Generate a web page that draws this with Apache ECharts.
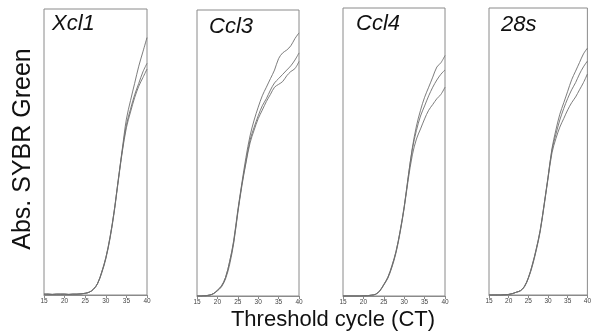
<!DOCTYPE html>
<html>
<head>
<meta charset="utf-8">
<script src="https://cdn.jsdelivr.net/npm/echarts@6/dist/echarts.min.js"></script>
<style>
html,body{margin:0;padding:0;background:#fff;}
#chart{width:594px;height:334px;}
</style>
</head>
<body>
<div id="chart"></div>
<script>
// Threshold cycles (x values)
const cycles = [15,16,17,18,19,20,21,22,23,24,25,26,27,28,29,30,31,32,33,34,35,36,37,38,39,40];
const xTicks = [15,20,25,30,35,40];

const panelTitles = ['Xcl1','Ccl3','Ccl4','28s'];
const yLabel = 'Abs. SYBR Green';
const xLabel = 'Threshold cycle (CT)';

// Xcl1 amplification curves (% of axis height)
const xcl1A = [0.3,0.3,0.2,0.3,0.3,0.3,0.2,0.3,0.3,0.4,0.6,1,2,4,8,13,20,29,40,51,61.5,68,74,80,85,90];
const xcl1B = [0.3,0.3,0.2,0.3,0.3,0.3,0.2,0.3,0.3,0.4,0.6,1,2,4,8,13,20,29,40,50.5,59.5,65,70,74,78,81];
const xcl1C = [0.3,0.3,0.2,0.3,0.3,0.3,0.2,0.3,0.3,0.4,0.6,1,2,4,7.6,12.6,19.5,28.5,39.5,50,58.5,64,69,73,76,79];

// Ccl3
const ccl3A = [0,0,0.1,0.3,0.8,2,3.5,6.5,12,19.5,30,39.5,48.5,56,61.5,66,70,73,76,79,83,85,86,87.5,90,92];
const ccl3B = [0,0,0.1,0.3,0.8,2,3.5,6.5,12,19,29.5,39,47,54.5,59,63,66.5,69,72,74.5,76,77.5,79,80.5,82.5,85];
const ccl3C = [0,0,0.1,0.3,0.8,1.8,3.2,6,11,18.5,29,38.5,46.5,53.5,58,62,65,68,70.5,73,74,75,77,78.5,79.5,82];

// Ccl4
const ccl4A = [0,0,0,0,0,0.05,0.1,0.3,0.6,1.8,4,6.5,10.5,15.5,22.5,31,41.5,51.5,59,64.5,69,72.5,76,79.5,81,83.5];
const ccl4B = [0,0,0,0,0,0.05,0.1,0.3,0.6,1.8,4,6.5,10.5,15.5,22.5,31,41.5,51,57.5,62.5,66,69.5,72.5,75,77,78.5];
const ccl4C = [0,0,0,0,0,0.05,0.1,0.3,0.6,1.7,3.8,6.2,10,15,22,30.5,40.5,49,54.5,58,61.5,64.5,66.5,68.5,70,72.5];

// 28s
const s28A = [0,0,0,0,0.1,0.2,0.5,1,1.5,3,6,10.5,16,22.5,31.5,41,51,57.5,63,67,71,75,78,81,84,86];
const s28B = [0,0,0,0,0.1,0.2,0.5,1,1.5,3,6,10.5,16,22.5,31.5,41,50.5,56,61,65,68.5,71.5,74,77,79.5,81.5];
const s28C = [0,0,0,0,0.1,0.2,0.5,1,1.5,2.8,5.8,10,15.5,22,31,40.5,49.5,54.5,58.5,61.5,64.5,67,69,71.5,74,77];

const panels = [
  [xcl1A, xcl1B, xcl1C],
  [ccl3A, ccl3B, ccl3C],
  [ccl4A, ccl4B, ccl4C],
  [s28A, s28B, s28C]
];

const grids = [
  {left:44, top:9, width:103, height:286},
  {left:197, top:10, width:102, height:286},
  {left:343, top:8, width:102, height:288},
  {left:489, top:8, width:102, height:287}
];
const titlePos = [
  {left:52, top:13},
  {left:209, top:16},
  {left:356, top:13},
  {left:501, top:14}
];

const FONT = '"Liberation Sans", Arial, sans-serif';

const option = {
  backgroundColor: '#ffffff',
  animation: false,
  title: panelTitles.map((t,i)=>({
    text: t,
    left: titlePos[i].left,
    top: titlePos[i].top,
    padding: 0,
    textStyle: {fontFamily: FONT, fontStyle: 'italic', fontWeight: 'normal', fontSize: 22, color: '#111'}
  })),
  grid: grids.map(g=>Object.assign({show:true, borderColor:'#8a8a8a', borderWidth:1, backgroundColor:'transparent'}, g)),
  xAxis: grids.map((g,i)=>({
    type:'value', gridIndex:i, min:xTicks[0], max:xTicks[xTicks.length-1], interval:5,
    axisLine:{show:true, lineStyle:{color:'#8a8a8a', width:1}},
    axisTick:{show:true, length:3, lineStyle:{color:'#8a8a8a'}},
    axisLabel:{show:true, fontSize:6.5, color:'#444', margin:3, fontFamily: FONT},
    splitLine:{show:false}
  })),
  yAxis: grids.map((g,i)=>({
    type:'value', gridIndex:i, min:0, max:100,
    axisLine:{show:false}, axisTick:{show:false}, axisLabel:{show:false}, splitLine:{show:false}
  })),
  series: [],
  graphic: [
    {
      type:'text', x:23, y:149, rotation: Math.PI/2,
      style:{text:yLabel, font:'25px ' + FONT, fill:'#111', textAlign:'center', textVerticalAlign:'middle'}
    },
    {
      type:'text', x:333, y:320,
      style:{text:xLabel, font:'22px ' + FONT, fill:'#111', textAlign:'center', textVerticalAlign:'middle'}
    }
  ]
};

panels.forEach((lines, pi)=>{
  lines.forEach(vals=>{
    option.series.push({
      type:'line', xAxisIndex:pi, yAxisIndex:pi,
      data: cycles.map((c,k)=>[c, vals[k]]),
      showSymbol:false, smooth:0.35,
      lineStyle:{color:'#6e6e6e', width:0.9},
      silent:true
    });
  });
});

const chart = echarts.init(document.getElementById('chart'), null, {renderer:'canvas'});
chart.setOption(option);
</script>
</body>
</html>
